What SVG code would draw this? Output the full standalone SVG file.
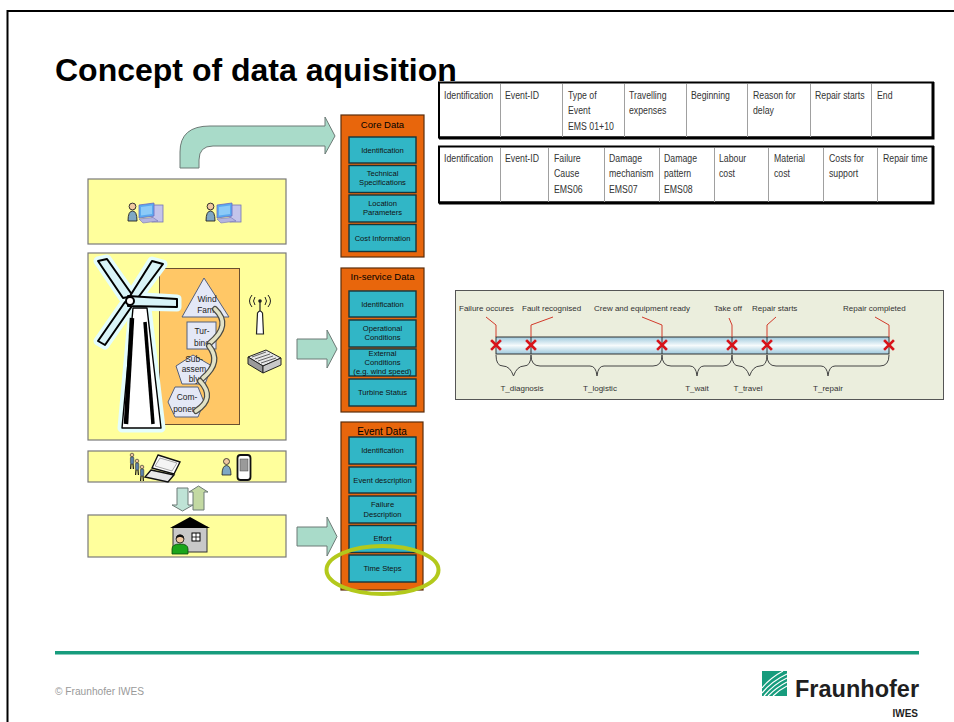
<svg xmlns="http://www.w3.org/2000/svg" width="954" height="722" viewBox="0 0 954 722">
  <style>
    .title { font-family: 'Liberation Sans', Arial, sans-serif; font-weight: bold; font-size: 32px; fill: #000; }
    .tbl { font-family: 'Liberation Sans', Arial, sans-serif; font-size: 11.5px; fill: #333; }
    .cell { fill: #fff; }
    .sep { stroke: #a0a0a0; stroke-width: 1; }
    .panel { fill: #ffff9c; stroke: #7a7a7a; stroke-width: 1.2; }
    .col { fill: #e8660c; stroke: #5a2e0c; stroke-width: 1.2; }
    .colhead { font-family: 'Liberation Sans', Arial, sans-serif; font-size: 9.5px; fill: #000; text-anchor: middle; }
    .item { fill: #31b6c6; stroke: #17363c; stroke-width: 1.4; }
    .itxt { font-family: 'Liberation Sans', Arial, sans-serif; font-size: 7.6px; fill: #111; text-anchor: middle; }
    .blk { fill: #a9dbc9; stroke: #6d7a76; stroke-width: 1; }
    .shape { fill: #e4e8f6; stroke: #55607a; stroke-width: 1; }
    .stxt { font-family: 'Liberation Sans', Arial, sans-serif; font-size: 8.4px; fill: #222; text-anchor: middle; }
    .lbl { font-family: 'Liberation Sans', Arial, sans-serif; font-size: 8px; fill: #333; }
    .tl { font-family: 'Liberation Sans', Arial, sans-serif; font-size: 8px; fill: #333; text-anchor: middle; }
    .lead { fill: none; stroke: #d23a2a; stroke-width: 1; }
    .xm { stroke: #d8141a; stroke-width: 2.6; stroke-linecap: square; }
    .brace { fill: none; stroke: #444; stroke-width: 1; }
    .tick { stroke: #333; stroke-width: 1; }
    .hook { fill: none; stroke: #4a4a44; stroke-width: 6; stroke-linecap: round; }
    .hookin { fill: none; stroke: #e2e2c6; stroke-width: 3.6; stroke-linecap: round; }
  </style>
  <defs>
    <linearGradient id="barGrad" x1="0" y1="0" x2="0" y2="1">
      <stop offset="0" stop-color="#9ec9dd"/>
      <stop offset="0.5" stop-color="#f6fbfc"/>
      <stop offset="1" stop-color="#9ec9dd"/>
    </linearGradient>
    <!-- workstation: user next to a desktop computer -->
    <g id="userPc">
      <circle cx="4.5" cy="4.5" r="3.4" fill="#f0c8a0" stroke="#222" stroke-width="0.9"/>
      <path d="M0,19 Q0,9 4.5,9 Q9,9 9,19 Z" fill="#7fa8c4" stroke="#222" stroke-width="0.9"/>
      <rect x="24" y="3" width="11" height="17" fill="#c4c4ea" stroke="#7474b4" stroke-width="0.8"/>
      <polygon points="11,3 26,1 26,14 11,16" fill="#5aaaf0" stroke="#6a6ac0" stroke-width="0.8"/>
      <polygon points="13,5 24,3.5 24,12 13,13.5" fill="#8ccaf8"/>
      <polygon points="11,17 25,15.5 30,19 15,21" fill="#b4b4e0" stroke="#7474b4" stroke-width="0.6"/>
    </g>
    <!-- walking person, small -->
    <g id="walker">
      <circle cx="2" cy="2" r="1.8" fill="#f0c8a0" stroke="#222" stroke-width="0.6"/>
      <rect x="0.4" y="4" width="3.4" height="7" rx="1" fill="#5b80a8" stroke="#222" stroke-width="0.5"/>
      <path d="M1,11 L0.6,16 M3,11 L3.4,16" stroke="#111" stroke-width="1.2"/>
    </g>
  </defs>

  <!-- slide frame -->
  <path d="M7.5,722 L7.5,11 L954,11" fill="none" stroke="#000" stroke-width="2"/>

  <text class="title" x="55" y="81">Concept of data aquisition</text>

  <!-- event record tables (condensed lettering) -->
  <g id="table-event">
    <rect x="439" y="82.5" width="494" height="55" class="cell" stroke="#000" stroke-width="2"/>
    <path d="M933,82 L933,138 L439,138" fill="none" stroke="#000" stroke-width="3"/>
    <path d="M500.5,84 V137 M562.5,84 V137 M624.5,84 V137 M686.5,84 V137 M747.5,84 V137 M810.5,84 V137 M871.5,84 V137" class="sep"/>
    <g transform="translate(444,0) scale(0.76,1)"><text class="tbl"><tspan x="0" y="99">Identification</tspan></text></g>
    <g transform="translate(505,0) scale(0.76,1)"><text class="tbl"><tspan x="0" y="99">Event-ID</tspan></text></g>
    <g transform="translate(568,0) scale(0.76,1)"><text class="tbl"><tspan x="0" y="99">Type of</tspan><tspan x="0" y="114.5">Event</tspan><tspan x="0" y="130">EMS 01+10</tspan></text></g>
    <g transform="translate(629,0) scale(0.76,1)"><text class="tbl"><tspan x="0" y="99">Travelling</tspan><tspan x="0" y="114.5">expenses</tspan></text></g>
    <g transform="translate(691,0) scale(0.76,1)"><text class="tbl"><tspan x="0" y="99">Beginning</tspan></text></g>
    <g transform="translate(753,0) scale(0.76,1)"><text class="tbl"><tspan x="0" y="99">Reason for</tspan><tspan x="0" y="114.5">delay</tspan></text></g>
    <g transform="translate(815,0) scale(0.76,1)"><text class="tbl"><tspan x="0" y="99">Repair starts</tspan></text></g>
    <g transform="translate(877,0) scale(0.76,1)"><text class="tbl"><tspan x="0" y="99">End</tspan></text></g>
  </g>
  <g id="table-failure">
    <rect x="439" y="146.5" width="494" height="56" class="cell" stroke="#000" stroke-width="2"/>
    <path d="M933,146 L933,203 L439,203" fill="none" stroke="#000" stroke-width="3"/>
    <path d="M500.5,148 V202 M548.5,148 V202 M604.5,148 V202 M659.5,148 V202 M714.5,148 V202 M768.5,148 V202 M823.5,148 V202 M877.5,148 V202" class="sep"/>
    <g transform="translate(444,0) scale(0.76,1)"><text class="tbl"><tspan x="0" y="162">Identification</tspan></text></g>
    <g transform="translate(505,0) scale(0.76,1)"><text class="tbl"><tspan x="0" y="162">Event-ID</tspan></text></g>
    <g transform="translate(554,0) scale(0.76,1)"><text class="tbl"><tspan x="0" y="162">Failure</tspan><tspan x="0" y="177.5">Cause</tspan><tspan x="0" y="193">EMS06</tspan></text></g>
    <g transform="translate(609,0) scale(0.76,1)"><text class="tbl"><tspan x="0" y="162">Damage</tspan><tspan x="0" y="177.5">mechanism</tspan><tspan x="0" y="193">EMS07</tspan></text></g>
    <g transform="translate(664,0) scale(0.76,1)"><text class="tbl"><tspan x="0" y="162">Damage</tspan><tspan x="0" y="177.5">pattern</tspan><tspan x="0" y="193">EMS08</tspan></text></g>
    <g transform="translate(719,0) scale(0.76,1)"><text class="tbl"><tspan x="0" y="162">Labour</tspan><tspan x="0" y="177.5">cost</tspan></text></g>
    <g transform="translate(774,0) scale(0.76,1)"><text class="tbl"><tspan x="0" y="162">Material</tspan><tspan x="0" y="177.5">cost</tspan></text></g>
    <g transform="translate(829,0) scale(0.76,1)"><text class="tbl"><tspan x="0" y="162">Costs for</tspan><tspan x="0" y="177.5">support</tspan></text></g>
    <g transform="translate(883,0) scale(0.76,1)"><text class="tbl"><tspan x="0" y="162">Repair time</tspan></text></g>
  </g>

  <!-- source level: office workstations -->
  <g id="src-office">
    <rect x="88" y="179" width="198" height="65" class="panel"/>
    <use href="#userPc" x="128" y="202"/>
    <use href="#userPc" x="206" y="202"/>
  </g>

  <!-- source level: plant, hierarchy and SCADA -->
  <g id="src-plant">
    <rect x="88" y="253" width="198" height="187" class="panel"/>
    <rect x="159.5" y="268.5" width="80" height="156" fill="#ffc766" stroke="#6a5030" stroke-width="1"/>
    <!-- turbine clip art -->
    <g stroke-linejoin="round">
      <g fill="none" stroke="#e4fdfd" stroke-width="9">
        <polygon points="123,298 98,261 107,259 133,296"/>
        <polygon points="130,296 152,261 163,264 137,299"/>
        <polygon points="128,296 177,299 177,307 128,306"/>
        <polygon points="125,302 98,341 105,345 132,306"/>
        <polygon points="133,308 147,308 161,428 122,428"/>
      </g>
      <polygon points="133,308 147,308 161,428 122,428" fill="#fff" stroke="#000" stroke-width="1.4"/>
      <path d="M132,318 L126,424" stroke="#000" stroke-width="4.5" fill="none"/>
      <path d="M145,322 L153,424" stroke="#000" stroke-width="3.5" fill="none"/>
      <polygon points="123,298 98,261 107,259 133,296" fill="#d8f4f8" stroke="#000" stroke-width="2"/>
      <polygon points="130,296 152,261 163,264 137,299" fill="#d8f4f8" stroke="#000" stroke-width="2"/>
      <polygon points="125,302 98,341 105,345 132,306" fill="#d8f4f8" stroke="#000" stroke-width="2"/>
      <polygon points="128,296 177,299 177,307 128,306" fill="#d8f4f8" stroke="#000" stroke-width="2"/>
      <circle cx="130" cy="301" r="4" fill="#fff" stroke="#000" stroke-width="2"/>
    </g>
    <!-- breakdown: wind farm / turbine / sub-assembly / component -->
    <polygon points="204,278 182,317 229,317" class="shape"/>
    <text class="stxt"><tspan x="207" y="302">Wind</tspan><tspan x="207" y="313">Farm</tspan></text>
    <rect x="187" y="322" width="29" height="27" class="shape"/>
    <text class="stxt"><tspan x="202" y="334">Tur-</tspan><tspan x="202" y="346">bine</tspan></text>
    <polygon points="193,355 212,366 205,384 182,384 176,366" class="shape"/>
    <text class="stxt"><tspan x="194" y="362">Sub-</tspan><tspan x="194" y="372">assem</tspan><tspan x="194" y="382">bly</tspan></text>
    <polygon points="175,387 198,387 204,402 198,417 175,417 168,402" class="shape"/>
    <text class="stxt"><tspan x="187" y="400">Com-</tspan><tspan x="186" y="412">ponent</tspan></text>
    <path d="M215,309 Q232,325 210,343" class="hook"/>
    <path d="M215,309 Q232,325 210,343" class="hookin"/>
    <path d="M209,346 Q222,362 203,378" class="hook"/>
    <path d="M209,346 Q222,362 203,378" class="hookin"/>
    <path d="M200,381 Q216,398 196,411" class="hook"/>
    <path d="M200,381 Q216,398 196,411" class="hookin"/>
    <!-- antenna -->
    <g fill="none" stroke="#222" stroke-width="1">
      <path d="M255,297 Q252,301 255,305 M252,295 Q247,301 252,307 M265,297 Q268,301 265,305 M268,295 Q273,301 268,307"/>
    </g>
    <circle cx="260" cy="301" r="1.8" fill="#222"/>
    <path d="M260,302 V312" stroke="#222" stroke-width="1.2"/>
    <path d="M256.5,334 L257.5,313 Q260,309 262.5,313 L263.5,334 Z" fill="#fff" stroke="#222" stroke-width="1.2"/>
    <!-- network switch -->
    <polygon points="248,357 266,350 281,358 263,366" fill="#e6e6e6" stroke="#222" stroke-width="1"/>
    <polygon points="248,357 263,366 263,373 248,364" fill="#9a9a9a" stroke="#222" stroke-width="1"/>
    <polygon points="263,366 281,358 281,365 263,373" fill="#c8c8c8" stroke="#222" stroke-width="1"/>
    <path d="M252,357 L266,352 M255,359 L270,354 M258,361 L273,356 M261,363 L276,358" stroke="#444" stroke-width="0.8"/>
  </g>

  <!-- source level: mobile field staff -->
  <g id="src-mobile">
    <rect x="88" y="451" width="198" height="31" class="panel"/>
    <use href="#walker" x="130" y="453"/>
    <use href="#walker" x="135" y="459"/>
    <use href="#walker" x="140" y="465"/>
    <polygon points="158,455 180,462 174,474 152,468" fill="#fff" stroke="#111" stroke-width="1.4"/>
    <polygon points="160,458 177,463 172,471 155,466" fill="#f4f4f4" stroke="#555" stroke-width="0.5"/>
    <polygon points="151,470 174,475 168,482 145,477" fill="#e8e8e8" stroke="#111" stroke-width="1.4"/>
    <circle cx="226.5" cy="461.5" r="3" fill="#f0c8a0" stroke="#222" stroke-width="0.8"/>
    <path d="M222,475 Q222,465.5 226.5,465.5 Q231,465.5 231,475 Z" fill="#7fa8c4" stroke="#222" stroke-width="0.8"/>
    <rect x="237.5" y="455" width="13" height="25" rx="3" fill="#fff" stroke="#111" stroke-width="1.8"/>
    <rect x="240" y="459" width="8" height="12" fill="#9a9a9a" stroke="#444" stroke-width="0.5"/>
  </g>

  <!-- source level: office / home base -->
  <g id="src-base">
    <rect x="88" y="515" width="198" height="42" class="panel"/>
    <rect x="173" y="527" width="34" height="25" fill="#c8c8c8" stroke="#333" stroke-width="1"/>
    <polygon points="170,528 190,517 210,528" fill="#000"/>
    <rect x="192" y="533" width="8" height="8" fill="#fff" stroke="#000" stroke-width="1"/>
    <path d="M196,533 V541 M192,537 H200" stroke="#000" stroke-width="0.8"/>
    <path d="M172,554 L172,549 Q172,544 180,544 Q188,544 188,549 L188,554 Z" fill="#1ba51b" stroke="#0b4a0b" stroke-width="0.8"/>
    <circle cx="180" cy="539" r="4" fill="#f0c8a0" stroke="#111" stroke-width="0.8"/>
    <path d="M176,539 Q176,534.5 180,534.5 Q184,534.5 184,539 Q182,536.5 180,537 Q178,536.5 176,539 Z" fill="#111"/>
  </g>

  <!-- data categories -->
  <g id="core-data">
    <rect x="341" y="115" width="83" height="142" class="col"/>
    <text class="colhead" x="382.5" y="128">Core Data</text>
    <rect x="349" y="137" width="67" height="26" class="item"/>
    <text class="itxt" x="382.5" y="152.5">Identification</text>
    <rect x="349" y="165.5" width="67" height="27" class="item"/>
    <text class="itxt"><tspan x="382.5" y="176">Technical</tspan><tspan x="382.5" y="185">Specifications</tspan></text>
    <rect x="349" y="195" width="67" height="27" class="item"/>
    <text class="itxt"><tspan x="382.5" y="205.5">Location</tspan><tspan x="382.5" y="214.5">Parameters</tspan></text>
    <rect x="349" y="224.5" width="67" height="27" class="item"/>
    <text class="itxt" x="382.5" y="240.5">Cost Information</text>
  </g>
  <g id="inservice-data">
    <rect x="341" y="268" width="83" height="144" class="col"/>
    <text class="colhead" x="382.5" y="280">In-service Data</text>
    <rect x="349" y="291" width="67" height="26" class="item"/>
    <text class="itxt" x="382.5" y="306.5">Identification</text>
    <rect x="349" y="320" width="67" height="27" class="item"/>
    <text class="itxt"><tspan x="382.5" y="331">Operational</tspan><tspan x="382.5" y="340">Conditions</tspan></text>
    <rect x="349" y="349" width="67" height="27" class="item"/>
    <text class="itxt"><tspan x="382.5" y="356">External</tspan><tspan x="382.5" y="365">Conditions</tspan><tspan x="382.5" y="374">(e.g. wind speed)</tspan></text>
    <rect x="349" y="379" width="67" height="27" class="item"/>
    <text class="itxt" x="382.5" y="395">Turbine Status</text>
  </g>
  <g id="event-data">
    <rect x="341" y="422" width="82" height="168" class="col"/>
    <text class="colhead" x="382" y="434.5" style="font-size:10px">Event Data</text>
    <rect x="349" y="437" width="67" height="27" class="item"/>
    <text class="itxt" x="382.5" y="453">Identification</text>
    <rect x="349" y="467" width="67" height="26" class="item"/>
    <text class="itxt" x="382.5" y="482.5">Event description</text>
    <rect x="349" y="496" width="67" height="27" class="item"/>
    <text class="itxt"><tspan x="382.5" y="507">Failure</tspan><tspan x="382.5" y="517">Description</tspan></text>
    <rect x="349" y="525.5" width="67" height="27" class="item"/>
    <text class="itxt" x="382.5" y="541">Effort</text>
    <rect x="349" y="555" width="67" height="27" class="item"/>
    <text class="itxt" x="382.5" y="571">Time Steps</text>
    <ellipse cx="382.5" cy="570" rx="56" ry="24" fill="none" stroke="#b3c91c" stroke-width="4"/>
  </g>

  <!-- flows between sources and data categories -->
  <g id="connectors">
    <path d="M180,168 L180,152 Q180,126 210,126 L325,126 L325,117 L335,136 L325,154 L325,146 L213,146 Q199,146 199,160 L199,168 Z" class="blk"/>
    <path d="M297,339 L327,339 L327,330 L337,349 L327,368 L327,359 L297,359 Z" class="blk"/>
    <path d="M297,527 L327,527 L327,517 L337,536.5 L327,556 L327,546 L297,546 Z" class="blk"/>
    <path d="M177,488 L188,488 L188,505 L193,505 L182.5,511 L172,505 L177,505 Z" fill="#bfe3d6" stroke="#6d7a76" stroke-width="1"/>
    <path d="M193,510 L204,510 L204,492 L208,492 L198.5,486 L189,492 L193,492 Z" fill="#c3d9a2" stroke="#6d7a76" stroke-width="1"/>
  </g>

  <!-- downtime breakdown -->
  <g id="timeline">
    <rect x="455.5" y="290.5" width="488" height="109" fill="#ebeedd" stroke="#555" stroke-width="1"/>
    <rect x="496" y="337" width="393" height="17" fill="url(#barGrad)" stroke="#333" stroke-width="1"/>
    <path d="M531,337 V354 M662,337 V354 M732,337 V354 M767,337 V354" class="tick"/>
    <path d="M486,317 L496,325 L496,337" class="lead"/>
    <path d="M553,317 L531,325 L531,337" class="lead"/>
    <path d="M642,317 L662,325 L662,337" class="lead"/>
    <path d="M729,318 L732,325 L732,337" class="lead"/>
    <path d="M776,317 L767,325 L767,337" class="lead"/>
    <path d="M875,317 L889,325 L889,337" class="lead"/>
    <text class="lbl" x="459" y="311">Failure occures</text>
    <text class="lbl" x="522" y="311">Fault recognised</text>
    <text class="lbl" x="594" y="311">Crew and equipment ready</text>
    <text class="lbl" x="714" y="311">Take off</text>
    <text class="lbl" x="752" y="311">Repair starts</text>
    <text class="lbl" x="843" y="311">Repair completed</text>
    <g>
      <path d="M492,341 L500,349 M500,341 L492,349" class="xm"/>
      <path d="M527,341 L535,349 M535,341 L527,349" class="xm"/>
      <path d="M658,341 L666,349 M666,341 L658,349" class="xm"/>
      <path d="M728,341 L736,349 M736,341 L728,349" class="xm"/>
      <path d="M763,341 L771,349 M771,341 L763,349" class="xm"/>
      <path d="M885,341 L893,349 M893,341 L885,349" class="xm"/>
    </g>
    <path d="M496,355 Q496,366 503,366 Q510,366 513.5,376 Q517,366 524,366 Q531,366 531,355" class="brace"/>
    <path d="M531,355 Q531,366 540,366 L590,366 Q596,366 597,376 Q598,366 604,366 L653,366 Q662,366 662,355" class="brace"/>
    <path d="M662,355 Q662,366 671,366 L690,366 Q696,366 697,376 Q698,366 704,366 L723,366 Q732,366 732,355" class="brace"/>
    <path d="M732,355 Q732,366 739,366 Q746,366 749.5,376 Q753,366 760,366 Q767,366 767,355" class="brace"/>
    <path d="M767,355 Q767,366 776,366 L821,366 Q827,366 828,376 Q829,366 835,366 L880,366 Q889,366 889,355" class="brace"/>
    <text class="tl" x="522" y="391">T_diagnosis</text>
    <text class="tl" x="600" y="391">T_logistic</text>
    <text class="tl" x="697" y="391">T_wait</text>
    <text class="tl" x="748" y="391">T_travel</text>
    <text class="tl" x="828" y="391">T_repair</text>
  </g>

  <!-- footer -->
  <rect x="55" y="651" width="864" height="3.5" fill="#179c7d"/>
  <text x="55" y="695" style="font-family:'Liberation Sans',Arial,sans-serif;font-size:10.2px;fill:#9a9a9a">© Fraunhofer IWES</text>
  <g id="logo">
    <rect x="762" y="671" width="25" height="25" fill="#179c7d"/>
    <g fill="none" stroke="#fff" stroke-width="1.2">
      <path d="M762,693 Q772,681 787,674"/>
      <path d="M764,696 Q774,684 787,678"/>
      <path d="M768,696 Q777,687 787,682"/>
      <path d="M773,696 Q779,690 787,686"/>
      <path d="M762,688 Q770,678 783,671"/>
    </g>
    <text x="795" y="697" style="font-family:'Liberation Sans',Arial,sans-serif;font-weight:bold;font-size:23.5px;fill:#1f1f1f">Fraunhofer</text>
    <text x="918" y="717" text-anchor="end" style="font-family:'Liberation Sans',Arial,sans-serif;font-weight:bold;font-size:10px;fill:#1f1f1f">IWES</text>
  </g>
</svg>
